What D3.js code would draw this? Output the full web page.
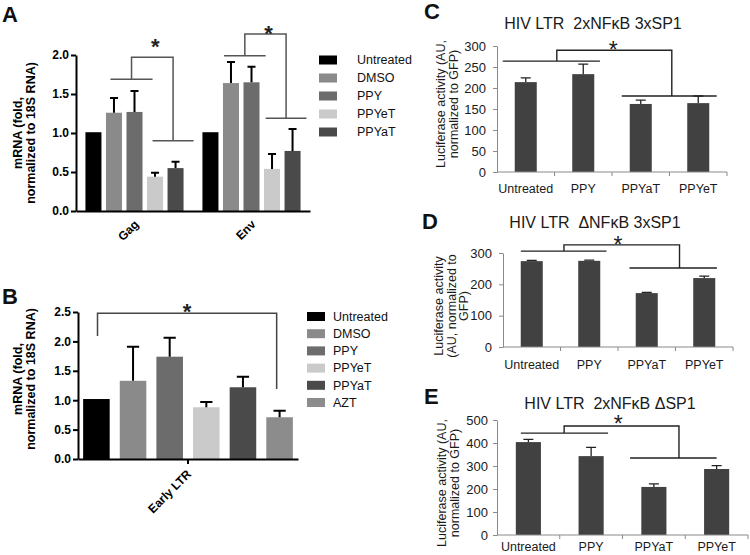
<!DOCTYPE html>
<html><head><meta charset="utf-8">
<script src="https://cdn.jsdelivr.net/npm/d3@7"></script>
<style>
body{margin:0;background:#fff}
svg{display:block}
text{font-family:"Liberation Sans",Arial,sans-serif}
</style>
</head><body>
<svg id="chart" width="750" height="555"></svg>
<script>
// ---------- DATA ----------
// Panel A
const seriesA = ["Untreated", "DMSO", "PPY", "PPYeT", "PPYaT"];
const groupsA = ["Gag", "Env"];
const meanGagA = [1.01, 1.26, 1.27, 0.44, 0.55];
const semGagA  = [0, 0.19, 0.27, 0.05, 0.08];
const meanEnvA = [1.01, 1.64, 1.65, 0.54, 0.77];
const semEnvA  = [0, 0.27, 0.20, 0.19, 0.28];
const ticksA = [0, 0.5, 1.0, 1.5, 2.0];
const colorsA = ["#000000", "#8a8a8a", "#6c6c6c", "#cacaca", "#4a4a4a"];

// Panel B
const seriesB = ["Untreated", "DMSO", "PPY", "PPYeT", "PPYaT", "AZT"];
const groupB = "Early LTR";
const meanB = [1.02, 1.33, 1.74, 0.88, 1.22, 0.71];
const semB  = [0, 0.58, 0.32, 0.09, 0.18, 0.11];
const ticksB = [0, 0.5, 1.0, 1.5, 2.0, 2.5];
const colorsB = ["#000000", "#8a8a8a", "#6c6c6c", "#cacaca", "#4a4a4a", "#8c8c8c"];

// Panels C-E
const catsCDE = ["Untreated", "PPY", "PPYaT", "PPYeT"];
const meanC = [214, 233, 162, 164];
const semC  = [10, 24, 9, 17];
const ticksC = [0, 50, 100, 150, 200, 250, 300];
const meanD = [274, 275, 172, 220];
const semD  = [2, 2, 2, 6];
const ticksD = [0, 100, 200, 300];
const meanE = [404, 343, 209, 287];
const semE  = [12, 38, 13, 15];
const ticksE = [0, 100, 200, 300, 400, 500];

const titleC = "HIV LTR  2xNF\u03BAB 3xSP1";
const titleD = "HIV LTR  \u0394NF\u03BAB 3xSP1";
const titleE = "HIV LTR  2xNF\u03BAB \u0394SP1";

// ---------- DRAW ----------
const svg = d3.select("#chart");
svg.append("rect").attr("width", 750).attr("height", 555).attr("fill", "#fff");

function letter(t, x, y) {
  svg.append("text").attr("x", x).attr("y", y).text(t)
    .attr("font-size", 22).attr("font-weight", "bold").attr("fill", "#111");
}
function starAt(x, cy, fs, bold, color) {
  svg.append("text").attr("x", x).attr("y", cy + fs * 0.55).attr("text-anchor", "middle")
    .attr("font-size", fs).attr("font-weight", bold ? "bold" : "normal").attr("fill", color).text("*");
}
function yLabel(lines, xs, cy, fs, bold, color) {
  lines.forEach((l, i) => {
    svg.append("text").attr("transform", `translate(${xs[i]},${cy}) rotate(-90)`)
      .attr("text-anchor", "middle").attr("dy", "0.35em")
      .attr("font-size", fs).attr("font-weight", bold ? "bold" : "normal")
      .attr("fill", color).text(l);
  });
}

// ===== Panel A =====
(function () {
  const y = d3.scaleLinear().domain([0, 2]).range([211, 55]);
  const x0 = d3.scaleBand().domain(groupsA).range([76, 310]);
  const x1 = d3.scaleBand().domain(seriesA).range([0, x0.bandwidth()]).paddingInner(0.22).paddingOuter(0.46);
  const g = svg.append("g");
  const data = [meanGagA, meanEnvA], sems = [semGagA, semEnvA];
  groupsA.forEach((grp, gi) => {
    seriesA.forEach((s, i) => {
      const m = data[gi][i], e = sems[gi][i];
      const bx = x0(grp) + x1(s);
      g.append("rect").attr("x", bx).attr("y", y(m)).attr("width", x1.bandwidth())
        .attr("height", y(0) - y(m)).attr("fill", colorsA[i]);
      if (e > 0) {
        const cx = bx + x1.bandwidth() / 2, cw = x1.bandwidth() * 0.25;
        g.append("path").attr("d", `M${cx},${y(m)}V${y(m + e)}M${cx - cw},${y(m + e)}H${cx + cw}`)
          .attr("stroke", "#000").attr("stroke-width", 2).attr("fill", "none");
      }
    });
  });
  const ax = g.append("g").attr("transform", "translate(76,0)")
    .call(d3.axisLeft(y).tickValues(ticksA).tickFormat(d3.format(".1f")).tickSize(5).tickSizeOuter(0).tickPadding(2));
  ax.select(".domain").attr("stroke", "#000").attr("stroke-width", 2);
  ax.selectAll(".tick line").attr("stroke", "#000").attr("stroke-width", 2);
  ax.selectAll(".tick text").attr("font-size", 12).attr("font-weight", "bold").attr("fill", "#000")
    .style("font-family", '"Liberation Sans",Arial,sans-serif');
  const axb = g.append("g").attr("transform", `translate(0,${y(0)})`)
    .call(d3.axisBottom(x0).tickSize(0).tickSizeOuter(0).tickFormat(""));
  axb.select(".domain").attr("stroke", "#000").attr("stroke-width", 2);
  groupsA.forEach(grp => {
    const cx = x0(grp) + x0.bandwidth() / 2 + 2;
    g.append("text").attr("transform", `translate(${cx},${y(0) + 11}) rotate(-45)`)
      .attr("text-anchor", "end").attr("dy", "0.35em")
      .attr("font-size", 12).attr("font-weight", "bold").attr("fill", "#000").text(grp);
  });
  // brackets
  const xi = (grp, f) => x0(grp) + x1(seriesA[0]) + x1.bandwidth() / 2 + f * x1.step();
  const br = [
    {g: "Gag", l: [0.83, 2.88], r: [2.88, 4.88], yl: 1.69, yt: 1.97, yr: 0.90, sy: 2.17},
    {g: "Env", l: [0.66, 2.69], r: [2.69, 4.68], yl: 1.99, yt: 2.27, yr: 1.19, sy: 2.33}
  ];
  br.forEach(b => {
    const lm = (b.l[0] + b.l[1]) / 2, rm = (b.r[0] + b.r[1]) / 2;
    g.append("path").attr("d",
      `M${xi(b.g, b.l[0])},${y(b.yl)}H${xi(b.g, b.l[1])}` +
      `M${xi(b.g, lm)},${y(b.yl)}V${y(b.yt)}H${xi(b.g, rm)}V${y(b.yr)}` +
      `M${xi(b.g, b.r[0])},${y(b.yr)}H${xi(b.g, b.r[1])}`)
      .attr("stroke", "#555").attr("stroke-width", 1.5).attr("fill", "none");
    starAt(xi(b.g, (lm + rm) / 2) + 3, y(b.sy), 22, true, "#222");
  });
  yLabel(["mRNA (fold,", "normalized to 18S RNA)"], [18, 31], 133, 12.5, true, "#000");
  // legend
  seriesA.forEach((s, i) => {
    const cy = 60 + i * 18;
    svg.append("rect").attr("x", 319).attr("y", cy - 4.5).attr("width", 18).attr("height", 9).attr("fill", colorsA[i]);
    svg.append("text").attr("x", 357).attr("y", cy).attr("dy", "0.35em").attr("font-size", 12.5)
      .attr("fill", "#111").text(s);
  });
  letter("A", 2, 22);
})();

// ===== Panel B =====
(function () {
  const y = d3.scaleLinear().domain([0, 2.5]).range([459, 312]);
  const x0 = d3.scaleBand().domain([groupB]).range([78, 298]);
  const x1 = d3.scaleBand().domain(seriesB).range([0, x0.bandwidth()]).paddingInner(0.275).paddingOuter(0.14);
  const g = svg.append("g");
  seriesB.forEach((s, i) => {
    const m = meanB[i], e = semB[i];
    const bx = x0(groupB) + x1(s);
    g.append("rect").attr("x", bx).attr("y", y(m)).attr("width", x1.bandwidth())
      .attr("height", y(0) - y(m)).attr("fill", colorsB[i]);
    if (e > 0) {
      const cx = bx + x1.bandwidth() / 2, cw = x1.bandwidth() * 0.23;
      g.append("path").attr("d", `M${cx},${y(m)}V${y(m + e)}M${cx - cw},${y(m + e)}H${cx + cw}`)
        .attr("stroke", "#000").attr("stroke-width", 2).attr("fill", "none");
    }
  });
  const ax = g.append("g").attr("transform", "translate(78,0)")
    .call(d3.axisLeft(y).tickValues(ticksB).tickFormat(d3.format(".1f")).tickSize(5).tickSizeOuter(0).tickPadding(2));
  ax.select(".domain").attr("stroke", "#000").attr("stroke-width", 2);
  ax.selectAll(".tick line").attr("stroke", "#000").attr("stroke-width", 2);
  ax.selectAll(".tick text").attr("font-size", 12).attr("font-weight", "bold").attr("fill", "#000")
    .style("font-family", '"Liberation Sans",Arial,sans-serif');
  const axb = g.append("g").attr("transform", `translate(0,${y(0)})`)
    .call(d3.axisBottom(x0).tickSize(5).tickSizeOuter(0).tickFormat(""));
  axb.select(".domain").attr("stroke", "#000").attr("stroke-width", 2);
  axb.selectAll(".tick line").attr("stroke", "#000").attr("stroke-width", 2);
  const cx = x0(groupB) + x0.bandwidth() / 2 + 1;
  g.append("text").attr("transform", `translate(${cx},${y(0) + 13}) rotate(-45)`)
    .attr("text-anchor", "end").attr("dy", "0.35em")
    .attr("font-size", 12).attr("font-weight", "bold").attr("fill", "#000").text(groupB);
  const xi = f => x0(groupB) + x1(seriesB[0]) + x1.bandwidth() / 2 + f * x1.step();
  const b = {l: 0.03, r: 4.92, yl: 2.09, yt: 2.48, yr: 1.19, sy: 2.58};
  g.append("path").attr("d", `M${xi(b.l)},${y(b.yl)}V${y(b.yt)}H${xi(b.r)}V${y(b.yr)}`)
    .attr("stroke", "#444").attr("stroke-width", 1.5).attr("fill", "none");
  starAt((xi(b.l) + xi(b.r)) / 2, y(b.sy), 22, true, "#222");
  yLabel(["mRNA (fold,", "normalized to 18S RNA)"], [18, 31], 379, 12.5, true, "#000");
  seriesB.forEach((s, i) => {
    const cy = 316.5 + i * 17.2;
    svg.append("rect").attr("x", 307).attr("y", cy - 4.5).attr("width", 18).attr("height", 9).attr("fill", colorsB[i]);
    svg.append("text").attr("x", 333).attr("y", cy).attr("dy", "0.35em").attr("font-size", 12.5)
      .attr("fill", "#111").text(s);
  });
  letter("B", 2, 304);
})();

// ===== Panels C-E =====
function excelPanel(c) {
  const y = d3.scaleLinear().domain(c.domain).range(c.yr);
  const x = d3.scaleBand().domain(catsCDE).range(c.xr).paddingInner(c.pad).paddingOuter(c.pad / 2);
  const g = svg.append("g");
  const axColor = "#8a8a8a", txt = "#1a1a1a";
  catsCDE.forEach((s, i) => {
    const m = c.mean[i], e = c.sem[i];
    g.append("rect").attr("x", x(s)).attr("y", y(m)).attr("width", x.bandwidth())
      .attr("height", y(0) - y(m)).attr("fill", "#414141");
    const cx = x(s) + x.bandwidth() / 2, cw = 5;
    g.append("path").attr("d", `M${cx},${y(m)}V${y(m + e)}M${cx - cw},${y(m + e)}H${cx + cw}`)
      .attr("stroke", "#222").attr("stroke-width", 1.3).attr("fill", "none");
  });
  const ax = g.append("g").attr("transform", `translate(${c.xr[0]},0)`)
    .call(d3.axisLeft(y).tickValues(c.ticks).tickSize(4).tickSizeOuter(0).tickPadding(c.tp));
  ax.select(".domain").attr("stroke", axColor);
  ax.selectAll(".tick line").attr("stroke", axColor);
  ax.selectAll(".tick text").attr("font-size", 13).attr("fill", txt)
    .style("font-family", '"Liberation Sans",Arial,sans-serif');
  // x axis with ticks at category boundaries
  g.append("line").attr("x1", c.xr[0]).attr("x2", c.xr[1]).attr("y1", y(0)).attr("y2", y(0)).attr("stroke", axColor);
  const bounds = catsCDE.map(s => x(s) - x.step() * c.pad / 2).slice(1).concat([c.xr[1]]);
  bounds.forEach(bx => g.append("line").attr("x1", bx).attr("x2", bx).attr("y1", y(0)).attr("y2", y(0) + 4).attr("stroke", axColor));
  catsCDE.forEach(s => {
    g.append("text").attr("x", x(s) + x.bandwidth() / 2).attr("y", y(0) + c.lo).attr("dy", "0.35em")
      .attr("text-anchor", "middle").attr("font-size", 12.5).attr("fill", txt).text(s);
  });
  const xi = f => x(catsCDE[0]) + x.bandwidth() / 2 + f * x.step();
  const b = c.br;
  g.append("path").attr("d",
    `M${xi(b.l[0])},${y(b.yl)}H${xi(b.l[1])}` +
    `M${xi(b.vl)},${y(b.yl)}V${y(b.yt)}H${xi(b.vr)}V${y(b.yr)}` +
    `M${xi(b.r[0])},${y(b.yr)}H${xi(b.r[1])}`)
    .attr("stroke", "#222").attr("stroke-width", 1.4).attr("fill", "none");
  starAt(xi(b.sx), y(b.sy), 23, false, "#222");
  svg.append("text").attr("x", c.title[1]).attr("y", c.title[2]).attr("dy", "0.35em")
    .attr("text-anchor", "middle").attr("font-size", 16).attr("fill", txt)
    .style("white-space", "pre").text(c.title[0]);
  yLabel(c.ylab, c.ylx, c.yly, 12.5, false, txt);
  letter(c.letter[0], c.letter[1], c.letter[2]);
}

excelPanel({
  mean: meanC, sem: semC, ticks: ticksC, domain: [0, 300], yr: [172, 46], xr: [497, 727], pad: 0.617, tp: 7, lo: 17,
  br: {l: [-0.4, 1.29], r: [1.67, 3.32], vl: 0.54, vr: 2.54, yl: 264, yt: 290, yr: 181, sx: 1.52, sy: 302},
  title: [titleC, 593, 23], ylab: ["Luciferase activity (AU,", "normalized to GFP)"], ylx: [441, 453.5], yly: 104,
  letter: ["C", 424, 19]
});
excelPanel({
  mean: meanD, sem: semD, ticks: ticksD, domain: [0, 300], yr: [347, 253], xr: [503, 733], pad: 0.617, tp: 7, lo: 18,
  br: {l: [-0.19, 1.30], r: [1.70, 3.22], vl: 0.56, vr: 2.57, yl: 306, yt: 326, yr: 252, sx: 1.5, sy: 341},
  title: [titleD, 595, 222], ylab: ["Luciferase activity", "(AU, normalized to", "GFP)"], ylx: [439, 451.5, 464], yly: 306,
  letter: ["D", 422, 229]
});
excelPanel({
  mean: meanE, sem: semE, ticks: ticksE, domain: [0, 500], yr: [535, 420], xr: [497, 748], pad: 0.6, tp: 5, lo: 12,
  br: {l: [-0.12, 1.27], r: [1.62, 3.0], vl: 0.57, vr: 2.4, yl: 443, yt: 474, yr: 335, sx: 1.43, sy: 504},
  title: [titleE, 610, 403], ylab: ["Luciferase activity (AU,", "normalized to GFP)"], ylx: [442, 454.5], yly: 483,
  letter: ["E", 424, 404]
});
</script>
</body></html>
